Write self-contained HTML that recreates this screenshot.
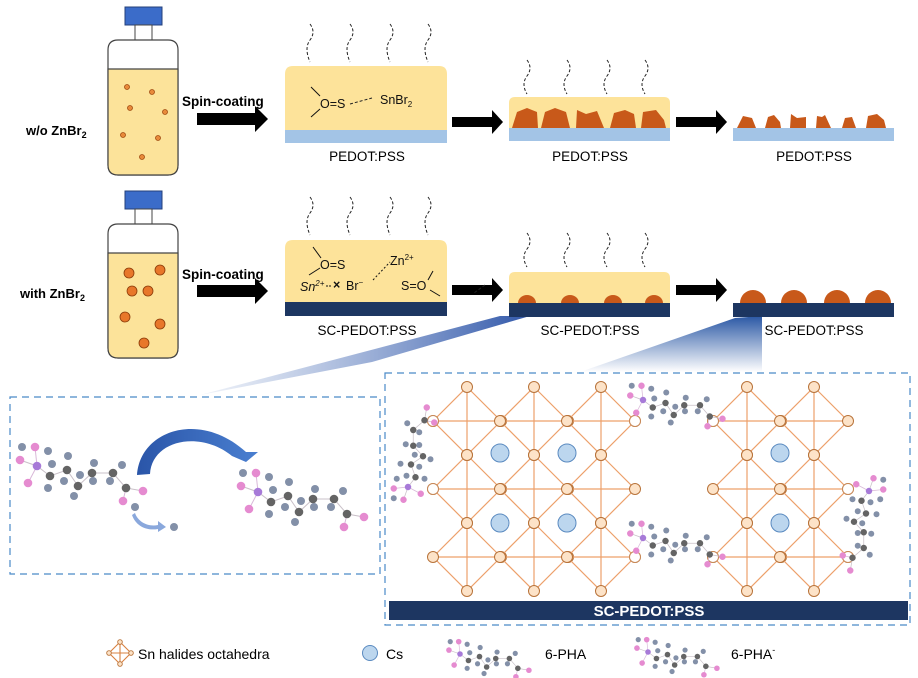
<!DOCTYPE html>
<html><head><meta charset="utf-8"><style>
html,body{margin:0;padding:0;background:#fff;}
svg{display:block;font-family:"Liberation Sans",Arial,sans-serif;}
</style></head><body>
<svg width="918" height="678" viewBox="0 0 918 678" xmlns="http://www.w3.org/2000/svg">
<defs>
<linearGradient id="beam" x1="0" y1="0" x2="0" y2="1"><stop offset="0" stop-color="#1f4fa0"/><stop offset="1" stop-color="#1f4fa0" stop-opacity="0"/></linearGradient>
<linearGradient id="beam2" x1="1" y1="0" x2="0" y2="0"><stop offset="0" stop-color="#1a45a0"/><stop offset="1" stop-color="#5d7fc0" stop-opacity="0.1"/></linearGradient>
<linearGradient id="curv" x1="0" y1="0" x2="1" y2="0"><stop offset="0" stop-color="#2a55a8"/><stop offset="1" stop-color="#4a7fd0"/></linearGradient>
<g id="oct">
<polygon points="0,-34 34,0 0,34 -34,0" fill="none" stroke="#eda06a" stroke-width="1.2"/>
<line x1="-34" y1="0" x2="34" y2="0" stroke="#eda06a" stroke-width="1.2"/>
<line x1="0" y1="-34" x2="0" y2="34" stroke="#eda06a" stroke-width="1.2"/>
<g fill="#fde3c8" stroke="#b8733a" stroke-width="1">
<circle cx="0" cy="-34" r="5.5"/><circle cx="34" cy="0" r="5.5"/><circle cx="0" cy="34" r="5.5"/><circle cx="-34" cy="0" r="5.5"/>
</g></g>
<g id="mol">
<polyline points="-17,-6 0,0 13,10 30,4 41,20 55,7 76,7 89,22 106,25" fill="none" stroke="#c9c0c8" stroke-width="1"/>
<line x1="0" y1="0" x2="-2" y2="-19" stroke="#d8b8d8"/><line x1="0" y1="0" x2="-9" y2="17" stroke="#d8b8d8"/><line x1="89" y1="22" x2="86" y2="35" stroke="#d8b8d8"/>
<g fill="#8390a8"><circle cx="-15" cy="-19" r="4"/><circle cx="11" cy="-15" r="4"/><circle cx="15" cy="-2" r="4"/><circle cx="11" cy="22" r="4"/><circle cx="31" cy="-10" r="4"/><circle cx="27" cy="15" r="4"/><circle cx="37" cy="30" r="4"/><circle cx="43" cy="9" r="4"/><circle cx="57" cy="-3" r="4"/><circle cx="56" cy="15" r="4"/><circle cx="73" cy="15" r="4"/><circle cx="85" cy="-1" r="4"/></g>
<g fill="#646464"><circle cx="13" cy="10" r="4.3"/><circle cx="30" cy="4" r="4.3"/><circle cx="41" cy="20" r="4.3"/><circle cx="55" cy="7" r="4.3"/><circle cx="76" cy="7" r="4.3"/><circle cx="89" cy="22" r="4.3"/></g>
<g fill="#e58bd0"><circle cx="-2" cy="-19" r="4.3"/><circle cx="-17" cy="-6" r="4.3"/><circle cx="-9" cy="17" r="4.3"/><circle cx="106" cy="25" r="4.3"/><circle cx="86" cy="35" r="4.3"/></g>
<circle cx="0" cy="0" r="4.3" fill="#a77ad8"/>
</g>
</defs>

<polygon points="500,316 530,316 372,362 200,395" fill="url(#beam2)" opacity="0.9"/>
<polygon points="735,318 762,316 762,372 580,372" fill="url(#beam)" opacity="0.95"/>

<rect x="125" y="7" width="37" height="18" fill="#3b6cc9" stroke="#25407a" stroke-width="1"/>
<rect x="135" y="25" width="17" height="15" fill="#fff" stroke="#444" stroke-width="1"/>
<path d="M118,40 H168 Q178,40 178,50 V165 Q178,175 168,175 H118 Q108,175 108,165 V50 Q108,40 118,40Z" fill="#fff" stroke="#444" stroke-width="1.2"/>
<path d="M108,69 H178 V165 Q178,175 168,175 H118 Q108,175 108,165Z" fill="#fce39a" stroke="#444" stroke-width="1.2"/>
<g fill="#e88a3a" stroke="#a04a10" stroke-width="0.8"><circle cx="127" cy="87" r="2.5"/><circle cx="152" cy="92" r="2.5"/><circle cx="130" cy="108" r="2.5"/><circle cx="165" cy="112" r="2.5"/><circle cx="123" cy="135" r="2.5"/><circle cx="158" cy="138" r="2.5"/><circle cx="142" cy="157" r="2.5"/></g>
<rect x="125" y="191" width="37" height="18" fill="#3b6cc9" stroke="#25407a" stroke-width="1"/>
<rect x="135" y="209" width="17" height="15" fill="#fff" stroke="#444" stroke-width="1"/>
<path d="M118,224 H168 Q178,224 178,234 V348 Q178,358 168,358 H118 Q108,358 108,348 V234 Q108,224 118,224Z" fill="#fff" stroke="#444" stroke-width="1.2"/>
<path d="M108,253 H178 V348 Q178,358 168,358 H118 Q108,358 108,348Z" fill="#fce39a" stroke="#444" stroke-width="1.2"/>
<g fill="#e8772a" stroke="#8a3a08" stroke-width="0.8"><circle cx="129" cy="273" r="5"/><circle cx="160" cy="270" r="5"/><circle cx="132" cy="291" r="5"/><circle cx="148" cy="291" r="5"/><circle cx="125" cy="317" r="5"/><circle cx="160" cy="324" r="5"/><circle cx="144" cy="343" r="5"/></g>

<text x="26" y="135" font-size="13" font-weight="bold">w/o ZnBr<tspan font-size="9" dy="3">2</tspan></text>
<text x="20" y="298" font-size="13" font-weight="bold">with ZnBr<tspan font-size="9" dy="3">2</tspan></text>

<g fill="#000">
<text x="182" y="106" font-size="13.5" font-weight="bold">Spin-coating</text>
<polygon points="197,113 255,113 255,106 268,119 255,132 255,125 197,125"/>
<text x="182" y="279" font-size="13.5" font-weight="bold">Spin-coating</text>
<polygon points="197,285 255,285 255,278 268,291 255,304 255,297 197,297"/>
<polygon points="452,117 492,117 492,110 503,122 492,134 492,127 452,127"/>
<polygon points="676,117 716,117 716,110 727,122 716,134 716,127 676,127"/>
<polygon points="452,285 492,285 492,278 503,290 492,302 492,295 452,295"/>
<polygon points="676,285 716,285 716,278 727,290 716,302 716,295 676,295"/>
</g>

<path d="M293,66 H439 Q447,66 447,74 V130 H285 V74 Q285,66 293,66Z" fill="#fde39a"/>
<rect x="285" y="130" width="162" height="13" fill="#a3c4e6"/>
<text x="367" y="161" font-size="13.5" text-anchor="middle">PEDOT:PSS</text>
<g stroke="#222" fill="none" stroke-width="1" stroke-dasharray="3,2">
<path d="M310,24 q6,8 0,16 q-6,8 0,22"/><path d="M350,24 q6,8 0,16 q-6,8 0,22"/><path d="M390,24 q6,8 0,16 q-6,8 0,22"/><path d="M428,24 q6,8 0,16 q-6,8 0,22"/>
<path d="M310,197 q6,8 0,16 q-6,8 0,22"/><path d="M350,197 q6,8 0,16 q-6,8 0,22"/><path d="M390,197 q6,8 0,16 q-6,8 0,22"/><path d="M428,197 q6,8 0,16 q-6,8 0,22"/>
<path d="M527,60 q6,8 0,16 q-6,8 0,18"/><path d="M567,60 q6,8 0,16 q-6,8 0,18"/><path d="M607,60 q6,8 0,16 q-6,8 0,18"/><path d="M645,60 q6,8 0,16 q-6,8 0,18"/>
<path d="M527,233 q6,8 0,16 q-6,8 0,18"/><path d="M567,233 q6,8 0,16 q-6,8 0,18"/><path d="M607,233 q6,8 0,16 q-6,8 0,18"/><path d="M645,233 q6,8 0,16 q-6,8 0,18"/>
<line x1="350" y1="104" x2="372" y2="98"/><line x1="485" y1="285" x2="474" y2="293"/>
</g>
<g font-size="12.5" fill="#111">
<text x="320" y="108">O=S</text>
<text x="380" y="104">SnBr<tspan font-size="8" dy="3">2</tspan></text>
</g>
<g stroke="#111" stroke-width="1"><line x1="311" y1="87" x2="320" y2="96"/><line x1="311" y1="117" x2="320" y2="109"/></g>

<path d="M293,240 H439 Q447,240 447,248 V302 H285 V248 Q285,240 293,240Z" fill="#fde39a"/>
<rect x="285" y="302" width="162" height="14" fill="#1d3661"/>
<text x="367" y="335" font-size="13.5" text-anchor="middle">SC-PEDOT:PSS</text>
<g font-size="12.5" fill="#111">
<text x="320" y="269">O=S</text>
<text x="300" y="291" font-style="italic">Sn<tspan font-size="8" dy="-5">2+</tspan></text>
<text x="346" y="290">Br<tspan font-size="8" dy="-5">−</tspan></text>
<text x="390" y="265">Zn<tspan font-size="8" dy="-5">2+</tspan></text>
<text x="401" y="290">S=O</text>
<text x="333" y="289" font-weight="bold">×</text>
</g>
<g stroke="#111" stroke-width="1"><line x1="313" y1="247" x2="321" y2="258"/><line x1="309" y1="275" x2="320" y2="268"/><line x1="433" y1="271" x2="428" y2="280"/><line x1="430" y1="290" x2="440" y2="296"/><line x1="326" y1="286" x2="332" y2="286" stroke-dasharray="2,1"/><line x1="373" y1="280" x2="390" y2="262" stroke-dasharray="2,2"/></g>

<path d="M515,97 H664 Q670,97 670,103 V128 H509 V103 Q509,97 515,97Z" fill="#fde39a"/>
<rect x="509" y="128" width="161" height="13" fill="#a3c4e6"/>
<text x="590" y="161" font-size="13.5" text-anchor="middle">PEDOT:PSS</text>
<g fill="#c8591a">
<polygon points="512,128 517,112 527,108 537,112 538,128"/>
<polygon points="541,128 545,112 555,108 566,112 570,128"/>
<polygon points="576,128 577,110 586,114 597,111 604,128"/>
<polygon points="610,128 614,113 625,110 634,114 636,128"/>
<polygon points="641,128 643,112 656,110 664,120 666,128"/>
</g>
<rect x="733" y="128" width="161" height="13" fill="#a3c4e6"/>
<text x="814" y="161" font-size="13.5" text-anchor="middle">PEDOT:PSS</text>
<g fill="#c8591a">
<polygon points="737,128 743,116 752,118 756,128"/>
<polygon points="765,128 768,117 774,115 780,122 781,128"/>
<polygon points="790,128 791,114 797,118 806,117 806,128"/>
<polygon points="816,128 817,116 822,117 825,115 831,128"/>
<polygon points="842,128 845,118 852,117 856,128"/>
<polygon points="866,128 868,116 877,114 884,120 886,128"/>
</g>
<path d="M515,272 H664 Q670,272 670,278 V303 H509 V278 Q509,272 515,272Z" fill="#fde39a"/>
<rect x="509" y="303" width="161" height="14" fill="#1d3661"/>
<text x="590" y="335" font-size="13.5" text-anchor="middle">SC-PEDOT:PSS</text>
<g fill="#c8591a">
<path d="M518,303 a9,8 0 0 1 18,0Z"/><path d="M561,303 a9,8 0 0 1 18,0Z"/><path d="M604,303 a9,8 0 0 1 18,0Z"/><path d="M645,303 a9,8 0 0 1 18,0Z"/>
</g>
<rect x="733" y="303" width="161" height="14" fill="#1d3661"/>
<text x="814" y="335" font-size="13.5" text-anchor="middle">SC-PEDOT:PSS</text>
<g fill="#c8591a">
<path d="M740,303 a13,13 0 0 1 26,0Z"/><path d="M781,303 a13,13 0 0 1 26,0Z"/><path d="M824,303 a13,13 0 0 1 26,0Z"/><path d="M865,303 a13,13 0 0 1 26,0Z"/>
</g>

<rect x="10" y="397" width="370" height="177" fill="none" stroke="#4a8ac8" stroke-width="1.2" stroke-dasharray="7,5"/>
<use href="#mol" transform="translate(37,466)"/>
<use href="#mol" transform="translate(258,492)"/>
<circle cx="135" cy="507" r="4" fill="#8390a8"/>
<circle cx="174" cy="527" r="4" fill="#8390a8"/>
<path d="M137,475 C140,430 200,410 246,452 L258,452 L246,462 L232,456 C200,430 152,440 150,474Z" fill="url(#curv)"/>
<path d="M135,513 C138,522 148,527 158,525 L158,521 L166,527 L158,532 L158,529 C146,531 136,526 132,515Z" fill="#8aa8dc"/>

<rect x="385" y="373" width="525" height="252" fill="none" stroke="#4a8ac8" stroke-width="1.2" stroke-dasharray="7,5"/>
<g>
<use href="#oct" x="467" y="421"/><use href="#oct" x="534" y="421"/><use href="#oct" x="601" y="421"/>
<use href="#oct" x="467" y="489"/><use href="#oct" x="534" y="489"/><use href="#oct" x="601" y="489"/>
<use href="#oct" x="467" y="557"/><use href="#oct" x="534" y="557"/><use href="#oct" x="601" y="557"/>
<use href="#oct" x="747" y="421"/><use href="#oct" x="814" y="421"/>
<use href="#oct" x="747" y="489"/><use href="#oct" x="814" y="489"/>
<use href="#oct" x="747" y="557"/><use href="#oct" x="814" y="557"/>
</g>
<g fill="#fff" stroke="#c88a5a" stroke-width="1"><circle cx="433" cy="421" r="5.5"/><circle cx="433" cy="489" r="5.5"/><circle cx="635" cy="421" r="5.5"/><circle cx="635" cy="557" r="5.5"/><circle cx="713" cy="421" r="5.5"/><circle cx="713" cy="557" r="5.5"/><circle cx="848" cy="489" r="5.5"/><circle cx="848" cy="557" r="5.5"/></g>
<g fill="#bcd6ee" stroke="#5a8ac0" stroke-width="1"><circle cx="500" cy="453" r="9"/><circle cx="567" cy="453" r="9"/><circle cx="500" cy="523" r="9"/><circle cx="567" cy="523" r="9"/><circle cx="780" cy="453" r="9"/><circle cx="780" cy="523" r="9"/></g>
<use href="#mol" transform="translate(643,400) scale(0.75)"/>
<use href="#mol" transform="translate(643,538) scale(0.75)"/>
<use href="#mol" transform="translate(408,487) rotate(-90) scale(0.75)"/>
<use href="#mol" transform="translate(869,491) rotate(90) scale(0.75)"/>
<rect x="389" y="601" width="519" height="19" fill="#1d3661"/>
<text x="649" y="616" font-size="15" font-weight="bold" fill="#fff" text-anchor="middle">SC-PEDOT:PSS</text>

<g stroke="#d9803f" stroke-width="1.1" fill="none">
<polygon points="120,642 131,653 120,664 109,653"/>
<line x1="109" y1="653" x2="131" y2="653"/><line x1="120" y1="642" x2="120" y2="664"/>
</g>
<g fill="#fde3c8" stroke="#b8733a" stroke-width="0.9"><circle cx="120" cy="642" r="2.3"/><circle cx="131" cy="653" r="2.3"/><circle cx="120" cy="664" r="2.3"/><circle cx="109" cy="653" r="2.3"/></g>
<text x="138" y="659" font-size="14">Sn halides octahedra</text>
<circle cx="370" cy="653" r="7.5" fill="#bcd6ee" stroke="#5a8ac0"/>
<text x="386" y="659" font-size="14">Cs</text>
<use href="#mol" transform="translate(460,654) scale(0.65)"/>
<text x="545" y="659" font-size="14">6-PHA</text>
<use href="#mol" transform="translate(648,652) scale(0.65)"/>
<text x="731" y="659" font-size="14">6-PHA<tspan font-size="9" dy="-6">-</tspan></text>
</svg>
</body></html>
